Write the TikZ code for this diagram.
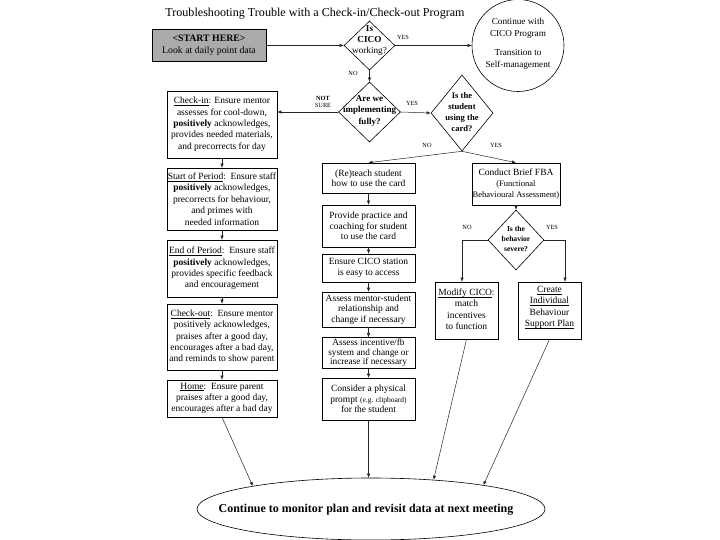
\documentclass[tikz,border=0pt]{standalone}
\usepackage{fontspec}
\setmainfont{Liberation Serif}
\usetikzlibrary{arrows.meta,shapes.geometric,shadows}
\newcommand\myul[1]{\underline{\smash{#1}}}
\begin{document}
\begin{tikzpicture}[x=1pt,y=-1pt,
  box/.style={draw=black, line width=0.6pt, fill=white, inner sep=0pt, align=center,
    font=\fontsize{9.5}{11.4}\selectfont,
    drop shadow={shadow xshift=0.9pt, shadow yshift=-0.9pt, fill=black!55, opacity=1}},
  mbox/.style={box, font=\fontsize{9.5}{10.4}\selectfont},
  dia/.style={draw=black, shape=diamond, inner sep=0pt, line width=0.6pt, fill=white},
  dtext/.style={align=center, inner sep=0pt},
  lab/.style={font=\fontsize{6.3}{7}\selectfont, inner sep=0pt, align=center},
  arr/.style={-{Latex[length=4pt,width=3.4pt]}, line width=0.5pt, draw=black!85}
]
\useasboundingbox (0,0) rectangle (720,540);
\fill[white] (0,0) rectangle (720,540);

% title
\node[font=\fontsize{12.1}{14}\selectfont, inner sep=0pt] (title) at (315,14) {Troubleshooting Trouble with a Check-in/Check-out Program};

% top row
\node[box, fill=black!33, minimum width=114pt, minimum height=32pt, font=\fontsize{9.8}{12}\selectfont] (start) at (209,45.5) {\textbf{<START HERE>}\\Look at daily point data};
\node[dia, minimum width=51pt, minimum height=49pt] (d1) at (369.5,45.5) {};
\node[dtext, font=\fontsize{9.2}{10.6}\selectfont] (t1) at (369.5,40.5) {\textbf{Is}\\\textbf{CICO}\\working?};
\node[circle, draw=black, line width=0.6pt, minimum size=92pt, inner sep=0pt] (circ) at (518,45.5) {};
\node[dtext, font=\fontsize{9.2}{11.5}\selectfont] (ctext) at (518,44) {Continue with\\CICO Program\\[8pt]Transition to\\Self-management};

% second row diamonds
\node[dia, minimum width=62pt, minimum height=60pt] (d2) at (369.5,112) {};
\node[dtext, font=\bfseries\fontsize{9}{11.5}\selectfont] (t2) at (369.5,111) {Are we\\implementing\\fully?};
\node[dia, minimum width=62pt, minimum height=76pt] (d3) at (462,113) {};
\node[dtext, font=\bfseries\fontsize{8.6}{11}\selectfont] (t3) at (462,112) {Is the\\student\\using the\\card?};

% left column
\node[box, minimum width=110pt, minimum height=67pt] (checkin) at (222,124.5) {\myul{Check-in}: Ensure mentor\\assesses for cool-down,\\\textbf{positively} acknowledges,\\provides needed materials,\\and precorrects for day};
\node[box, minimum width=110pt, minimum height=62pt] (sop) at (222,199) {\myul{Start of Period}:\ \ Ensure staff\\\textbf{positively} acknowledges,\\precorrects for behaviour,\\and primes with\\needed information};
\node[box, minimum width=110pt, minimum height=57pt] (eop) at (222,268.5) {\myul{End of Period}:\ \ Ensure staff\\\textbf{positively} acknowledges,\\provides specific feedback\\and encouragement};
\node[box, minimum width=110pt, minimum height=66pt] (cout) at (222,337) {\myul{Check-out}:\ \ Ensure mentor\\positively acknowledges,\\praises after a good day,\\encourages after a bad day,\\and reminds to show parent};
\node[box, minimum width=110pt, minimum height=37pt] (home) at (222,398.5) {\myul{Home}:\ \ Ensure parent\\praises after a good day,\\encourages after a bad day};

% middle column
\node[mbox, minimum width=93pt, minimum height=30pt] (reteach) at (368.5,178) {(Re)teach student\\how to use the card};
\node[mbox, minimum width=93pt, minimum height=42pt] (practice) at (368.5,226) {Provide practice and\\coaching for student\\to use the card};
\node[mbox, minimum width=93pt, minimum height=28pt] (station) at (368.5,268) {Ensure CICO station\\is easy to access};
\node[mbox, minimum width=93pt, minimum height=35pt] (mentor) at (368.5,309.5) {Assess mentor-student\\relationship and\\change if necessary};
\node[mbox, minimum width=93pt, minimum height=31pt, font=\fontsize{9.3}{9.6}\selectfont] (incent) at (368.5,353) {Assess incentive/fb\\system and change or\\increase if necessary};
\node[mbox, minimum width=93pt, minimum height=42pt] (prompt) at (368.5,399) {Consider a physical\\prompt {\fontsize{7.5}{9}\selectfont(e.g. clipboard)}\\for the student};

% right column
\node[box, minimum width=88pt, minimum height=42pt] (fba) at (516,184) {Conduct Brief FBA\\{\fontsize{8.5}{10}\selectfont(Functional}\\{\fontsize{8.5}{10}\selectfont Behavioural Assessment)}};
\node[dia, minimum width=56pt, minimum height=60pt] (d4) at (516,240) {};
\node[dtext, font=\bfseries\fontsize{7.6}{10}\selectfont] (t4) at (516,239) {Is the\\behavior\\severe?};
\node[box, minimum width=63pt, minimum height=57pt] (mod) at (466.5,310.5) {\myul{Modify CICO}:\\match\\incentives\\to function};
\node[box, minimum width=63pt, minimum height=57pt] (cre) at (549.5,310.5) {\myul{Create}\\\myul{Individual}\\Behaviour\\\myul{Support Plan}};

% bottom ellipse
\node[ellipse, draw=black, line width=0.6pt, minimum width=348pt, minimum height=62pt, inner sep=0pt] (ell) at (371,509) {};
\node[font=\bfseries\fontsize{12}{14}\selectfont, inner sep=0pt] (etext) at (366,510) {Continue to monitor plan and revisit data at next meeting};

% labels
\node[lab] (yes1) at (403,37) {YES};
\node[lab] (no1) at (353,73) {NO};
\node[lab] (ns) at (323,102) {\textbf{NOT}\\SURE};
\node[lab] (yes2) at (412,103) {YES};
\node[lab] (no3) at (427,145) {NO};
\node[lab] (yes3) at (496,145) {YES};
\node[lab] (no4) at (467,227) {NO};
\node[lab] (yes4) at (552,227) {YES};

% connectors
\draw[arr] (start.east) -- (d1.west);
\draw[arr] (d1.east) -- (circ.west);
\draw[arr] (d1.south) -- (d2.north);
\draw[arr] (d2.west) -- (d2.west -| checkin.east);
\draw[arr] (d2.east) -- (d3.west);
\draw[arr] (d3.south) -- (reteach.north);
\draw[arr] (d3.south) -- (fba.north);
\draw[arr] (checkin.south) -- (sop.north);
\draw[arr] (sop.south) -- (eop.north);
\draw[arr] (eop.south) -- (cout.north);
\draw[arr] (cout.south) -- (home.north);
\draw[arr] (reteach.south) -- (practice.north);
\draw[arr] (practice.south) -- (station.north);
\draw[arr] (station.south) -- (mentor.north);
\draw[arr] (mentor.south) -- (incent.north);
\draw[arr] (incent.south) -- (prompt.north);
\draw[arr] (fba.south) -- (d4.north);
\draw[arr] (d4.west) -| ([xshift=-4.5pt]mod.north);
\draw[arr] (d4.east) -| ([xshift=15.5pt]cre.north);
\draw[arr] (home.south) -- (ell.169);
\draw[arr] (prompt.south) -- (prompt.south |- ell.north);
\draw[arr] (mod.south) -- (ell.25);
\draw[arr] (cre.south) -- (ell.12);
\end{tikzpicture}
\end{document}
